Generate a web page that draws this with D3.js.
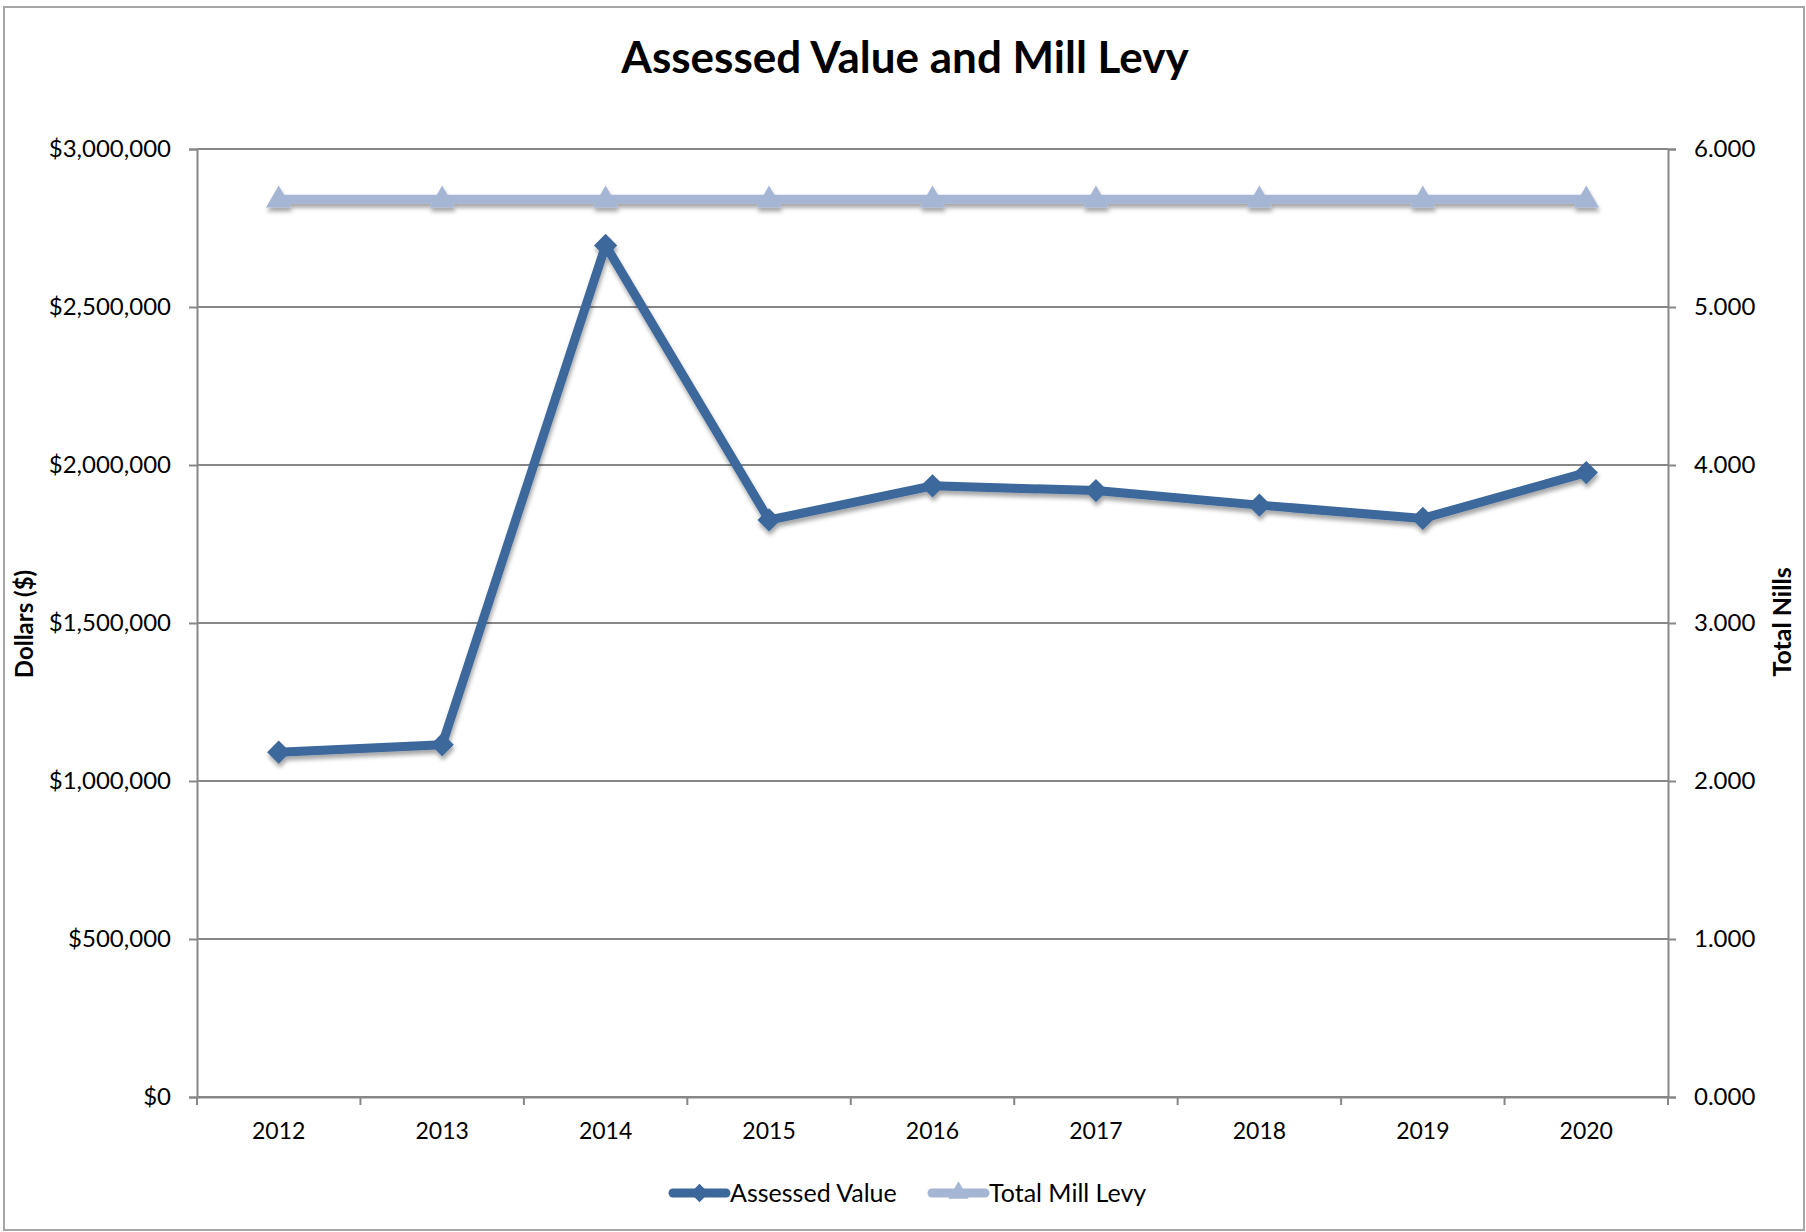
<!DOCTYPE html>
<html>
<head>
<meta charset="utf-8">
<script src="https://cdn.jsdelivr.net/npm/d3@7"></script>
<style>
  body { margin: 0; background: #fff; }
  svg text { font-family: Lato, "Open Sans", sans-serif; fill: #000; }
</style>
</head>
<body>
<svg id="chart" width="1806" height="1232"></svg>
<script>
// chart values
const years = ["2012", "2013", "2014", "2015", "2016", "2017", "2018", "2019", "2020"];
const assessedValue = [1091000, 1115000, 2695000, 1826000, 1934000, 1919000, 1873000, 1831000, 1976000];
const totalMillLevy = [5.682, 5.682, 5.682, 5.682, 5.682, 5.682, 5.682, 5.682, 5.682];
const leftTicks = [0, 500000, 1000000, 1500000, 2000000, 2500000, 3000000];
const rightTicks = [0, 1, 2, 3, 4, 5, 6];

const darkBlue = "#3c679b";
const lightBlue = "#a5b6d5";
const gridGrey = "#878787";

const margin = {top: 149, right: 138, bottom: 135, left: 197};
const W = 1806, H = 1232;

const svg = d3.select("#chart");

// outer frame
svg.append("rect")
  .attr("x", 4).attr("y", 7)
  .attr("width", 1800).attr("height", 1223)
  .attr("fill", "#fff")
  .attr("stroke", "#a6a6a6").attr("stroke-width", 2);

const defs = svg.append("defs");
const shadow = defs.append("filter").attr("id", "shadow")
  .attr("x", "-50%").attr("y", "-50%").attr("width", "200%").attr("height", "200%");
shadow.append("feDropShadow")
  .attr("dx", 1).attr("dy", 4).attr("stdDeviation", 2)
  .attr("flood-color", "#000").attr("flood-opacity", 0.35);

var x = d3.scaleBand().domain(years).range([margin.left, W - margin.right]);
var y = d3.scaleLinear().domain([0, 3000000]).range([H - margin.bottom, margin.top]);
var y2 = d3.scaleLinear().domain([0, 6]).range([H - margin.bottom, margin.top]);
const cx = d => x(d) + x.bandwidth() / 2;

// title
svg.append("text")
  .attr("x", 905).attr("y", 73)
  .attr("text-anchor", "middle")
  .attr("font-size", 44).attr("font-weight", "bold")
  .text("Assessed Value and Mill Levy");

// left axis
const leftAxis = svg.append("g")
  .attr("transform", "translate(" + margin.left + ",0)")
  .call(d3.axisLeft(y).tickValues(leftTicks)
    .tickSize(8).tickPadding(18)
    .tickFormat(d => "$" + d3.format(",")(d)));
leftAxis.select(".domain").attr("stroke", gridGrey).attr("stroke-width", 2);
leftAxis.selectAll(".tick line").attr("stroke", gridGrey).attr("stroke-width", 2);
leftAxis.selectAll(".tick text").attr("font-size", 24).attr("font-family", "Lato").attr("fill", "#000");

// horizontal grid lines
svg.append("g")
  .selectAll("line")
  .data(leftTicks)
  .join("line")
  .attr("x1", margin.left).attr("x2", W - margin.right)
  .attr("y1", d => y(d)).attr("y2", d => y(d))
  .attr("stroke", gridGrey).attr("stroke-width", 2);

// right axis
const rightAxis = svg.append("g")
  .attr("transform", "translate(" + (W - margin.right) + ",0)")
  .call(d3.axisRight(y2).tickValues(rightTicks)
    .tickSize(8).tickPadding(18)
    .tickFormat(d3.format(".3f")));
rightAxis.select(".domain").attr("stroke", gridGrey).attr("stroke-width", 2);
rightAxis.selectAll(".tick line").attr("stroke", gridGrey).attr("stroke-width", 2);
rightAxis.selectAll(".tick text").attr("font-size", 24).attr("font-family", "Lato").attr("fill", "#000");

// bottom axis: labels centered, ticks at category boundaries
const bottomAxis = svg.append("g")
  .attr("transform", "translate(0," + (H - margin.bottom) + ")")
  .call(d3.axisBottom(x).tickSize(0).tickPadding(26));
bottomAxis.select(".domain").attr("stroke", gridGrey).attr("stroke-width", 2);
bottomAxis.selectAll(".tick text").attr("font-size", 23).attr("font-family", "Lato").attr("fill", "#000");
svg.append("g")
  .selectAll("line")
  .data(years.concat(["end"]))
  .join("line")
  .attr("x1", (d, i) => i < years.length ? x(d) : x(years[years.length - 1]) + x.bandwidth())
  .attr("x2", (d, i) => i < years.length ? x(d) : x(years[years.length - 1]) + x.bandwidth())
  .attr("y1", H - margin.bottom).attr("y2", H - margin.bottom + 8)
  .attr("stroke", gridGrey).attr("stroke-width", 2);

// axis titles
svg.append("text")
  .attr("transform", "translate(33,624) rotate(-90)")
  .attr("text-anchor", "middle")
  .attr("font-size", 24).attr("font-weight", "bold")
  .text("Dollars ($)");
svg.append("text")
  .attr("transform", "translate(1791,622) rotate(-90)")
  .attr("text-anchor", "middle")
  .attr("font-size", 25).attr("font-weight", "bold")
  .text("Total Nills");

// series
const triangle = d3.symbol().type(d3.symbolTriangle).size(280);
const diamond = d3.symbol().type(d3.symbolSquare).size(270);

const levyData = years.map((d, i) => ({year: d, v: totalMillLevy[i]}));
const valueData = years.map((d, i) => ({year: d, v: assessedValue[i]}));

const levyG = svg.append("g").attr("filter", "url(#shadow)");
levyG.append("path")
  .datum(levyData)
  .attr("fill", "none")
  .attr("stroke", lightBlue).attr("stroke-width", 9)
  .attr("d", d3.line().x(d => cx(d.year)).y(d => y2(d.v)));
levyG.selectAll(".tri")
  .data(levyData)
  .join("path")
  .attr("class", "tri")
  .attr("transform", d => "translate(" + cx(d.year) + "," + (y2(d.v) + 1) + ")")
  .attr("d", triangle)
  .attr("fill", lightBlue);

const valueG = svg.append("g").attr("filter", "url(#shadow)");
valueG.append("path")
  .datum(valueData)
  .attr("fill", "none")
  .attr("stroke", darkBlue).attr("stroke-width", 9)
  .attr("stroke-linejoin", "round")
  .attr("d", d3.line().x(d => cx(d.year)).y(d => y(d.v)));
valueG.selectAll(".dia")
  .data(valueData)
  .join("path")
  .attr("class", "dia")
  .attr("transform", d => "translate(" + cx(d.year) + "," + y(d.v) + ") rotate(45)")
  .attr("d", diamond)
  .attr("fill", darkBlue);

// legend
const legendItems = [
  {name: "Assessed Value", color: darkBlue, sym: diamond, rot: 45, x: 669},
  {name: "Total Mill Levy", color: lightBlue, sym: triangle, rot: 0, x: 928}
];
const legend = svg.append("g").attr("transform", "translate(0,1193)");
const li = legend.selectAll("g").data(legendItems).join("g")
  .attr("transform", d => "translate(" + d.x + ",0)");
li.append("line")
  .attr("x1", 4).attr("x2", 57)
  .attr("stroke", d => d.color).attr("stroke-width", 9)
  .attr("stroke-linecap", "round");
li.append("path")
  .attr("transform", d => "translate(30.5,0) rotate(" + d.rot + ") scale(0.8)")
  .attr("d", d => d.sym())
  .attr("fill", d => d.color);
li.append("text")
  .attr("x", 61).attr("y", 9)
  .attr("font-size", 25)
  .text(d => d.name);
</script>
</body>
</html>
